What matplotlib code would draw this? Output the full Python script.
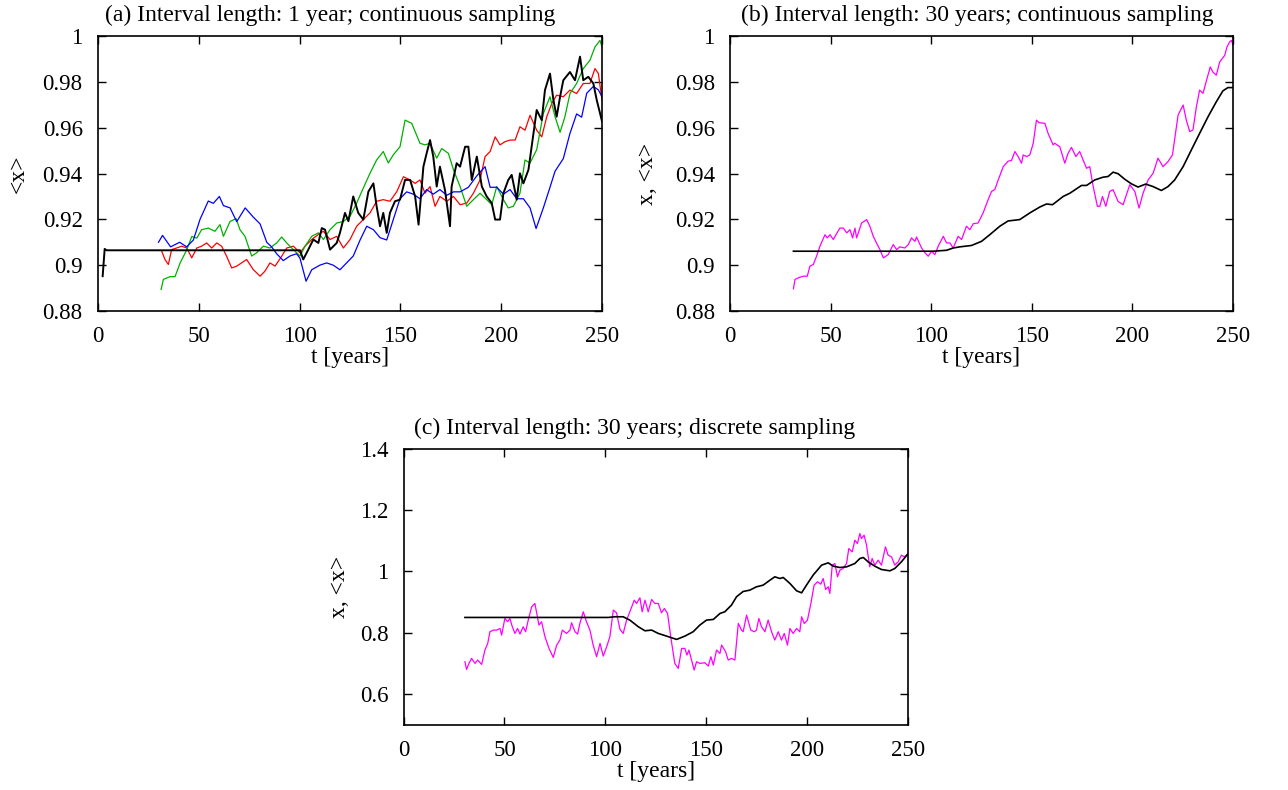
import matplotlib
matplotlib.use("Agg")
import matplotlib.pyplot as plt

plt.rcParams['font.family'] = ['Liberation Serif', 'DejaVu Serif']
plt.rcParams['font.size'] = 16.5

# ---------------- panel (a): interval length 1 year ----------------
a_blue_t = [30, 32, 36, 40.5, 44, 47.3, 50.6, 54.7, 57.2, 60.2, 62.2, 65.5, 68.8, 73, 77, 80.4, 83.7, 86.1,
            88.6, 91.9, 95.2, 98.5, 100.2, 103.2, 106, 110, 113.4, 116.7, 120, 123.3, 126.6, 130, 133.3,
            136.6, 139.9, 143.2, 146.5, 149.8, 153.1, 156.4, 159.7, 163, 166.3, 169.6, 173, 176.3, 179.6,
            183.7, 187.9, 192, 194.5, 197.8, 201.1, 204.4, 207.7, 211, 214.3, 217.3, 220.9, 224.2, 226.7,
            230.8, 234.1, 237.4, 239.9, 242.4, 245.7, 248.2, 250]
a_blue_v = [0.910, 0.913, 0.908, 0.910, 0.908, 0.911, 0.920, 0.928, 0.927, 0.930, 0.926, 0.925, 0.919, 0.925,
            0.921, 0.918, 0.910, 0.908, 0.905, 0.902, 0.904, 0.905, 0.903, 0.893, 0.898, 0.900, 0.901, 0.900,
            0.898, 0.901, 0.904, 0.911, 0.917, 0.9155, 0.912, 0.911, 0.920, 0.929, 0.932, 0.931, 0.929, 0.933,
            0.931, 0.933, 0.9305, 0.932, 0.932, 0.934, 0.939, 0.943, 0.934, 0.934, 0.931, 0.933, 0.929, 0.929,
            0.925, 0.916, 0.925, 0.934, 0.941, 0.9465, 0.9575, 0.966, 0.9646, 0.975, 0.978, 0.9765, 0.9735]

a_green_t = [31.3, 32.4, 35.7, 38.2, 40.7, 44, 46.5, 49, 51.4, 54.7, 58, 60.5, 62.2, 65.5, 68.5, 70.4, 72.9,
             76.2, 78.7, 82, 85.3, 88.6, 91.1, 93.6, 96.9, 100.2, 102.7, 106, 109.3, 111.8, 115.1, 118.4,
             121.7, 125, 128.3, 130.8, 134.9, 138.2, 141.5, 144, 146.5, 149.8, 152.3, 155.6, 157.3, 159.7,
             162.2, 164.7, 168, 170.5, 173.8, 176.3, 179.6, 182.9, 186.2, 189.5, 192.8, 195.3, 197.8, 201.1,
             203.5, 206, 209.3, 211.8, 214.3, 217.6, 220.9, 224.2, 226.7, 229.2, 231.6, 234.1, 237.4, 240.7,
             244, 246.5, 249, 250]
a_green_v = [0.8894, 0.8938, 0.895, 0.895, 0.9009, 0.9067, 0.9125, 0.9118, 0.9155, 0.9162, 0.9148, 0.9177,
             0.9126, 0.9191, 0.9203, 0.9155, 0.9126, 0.904, 0.9054, 0.9083, 0.9075, 0.9097, 0.9123, 0.9097,
             0.9068, 0.904, 0.9083, 0.9126, 0.9141, 0.9112, 0.9155, 0.9184, 0.9191, 0.9213, 0.9271, 0.9321,
             0.9401, 0.9459, 0.9496, 0.9446, 0.9482, 0.9517, 0.9633, 0.9619, 0.9583, 0.9532, 0.9525, 0.9532,
             0.9467, 0.9509, 0.9488, 0.9417, 0.9343, 0.9257, 0.9286, 0.9314, 0.9286, 0.9264, 0.9343, 0.9286,
             0.925, 0.9257, 0.9314, 0.9459, 0.9446, 0.9504, 0.9662, 0.9735, 0.9648, 0.958, 0.9648, 0.9749,
             0.9793, 0.9858, 0.9894, 0.9952, 0.9981, 0.9952]

a_red_t = [31.6, 33.2, 34.9, 36.5, 39, 41.5, 44, 46.5, 49, 51.4, 53.9, 56.4, 58.9, 61.3, 63.8, 66.3, 68.8,
           71.2, 73.7, 77, 80.4, 82.8, 85.3, 87.8, 91.1, 93.6, 96.9, 100.2, 102.7, 106, 109.3, 111.8, 115.1,
           118.4, 121.7, 125, 128.3, 131.6, 134.9, 138.2, 141.5, 144.8, 148.2, 151.5, 154.8, 157.3, 159.7,
           162.2, 164.7, 167.2, 169.6, 173, 176.3, 179.6, 182.9, 186.2, 189.5, 192, 194.5, 197, 199.4, 201.9,
           204.4, 206.9, 209.3, 211.8, 214.3, 217.6, 220.1, 222.6, 225.1, 227.5, 230.8, 234.1, 237.4, 240.7,
           244, 246.5, 248.2, 250]
a_red_v = [0.9061, 0.9025, 0.9003, 0.9068, 0.9075, 0.9083, 0.9075, 0.9032, 0.9075, 0.9083, 0.9097, 0.9075,
           0.9097, 0.9083, 0.9039, 0.8988, 0.8996, 0.901, 0.9025, 0.8981, 0.8952, 0.8974, 0.901, 0.8996,
           0.9039, 0.9075, 0.9083, 0.9054, 0.9083, 0.9112, 0.9134, 0.9148, 0.9112, 0.9126, 0.9075, 0.9112,
           0.917, 0.9199, 0.9228, 0.9279, 0.9286, 0.9279, 0.9321, 0.9386, 0.9372, 0.9357, 0.9372, 0.9314,
           0.9343, 0.9257, 0.93, 0.9279, 0.93, 0.9264, 0.9271, 0.9314, 0.9372, 0.9474, 0.9496, 0.956, 0.9525,
           0.9539, 0.9546, 0.9546, 0.9604, 0.9589, 0.9654, 0.9589, 0.956, 0.9648, 0.9706, 0.9742, 0.9735,
           0.9764, 0.9749, 0.9793, 0.9793, 0.9858, 0.9836, 0.972]

a_black_t = [2.3, 3.3, 4.3, 100.2, 101.8, 104.3, 106.8, 109.3, 111, 112.6, 115.1, 118.4, 120, 122.5, 124.2,
             126.6, 129.1, 131.6, 134.1, 136.6, 138.2, 139.9, 141.5, 143.2, 144.8, 147.3, 149.8, 152.3, 154.8,
             157.3, 159, 161.4, 163, 164.7, 166.3, 168, 169.6, 172.1, 174.6, 175.4, 177.9, 179.6, 182.1,
             183.7, 185.4, 187.9, 190.4, 192.8, 195.3, 197, 199.4, 201.1, 203.5, 205.2, 207.7, 209.3, 211,
             213.5, 216, 217.6, 220.1, 221.7, 224.2, 225.9, 227.5, 229.2, 230.8, 234.1, 236.6, 239.1, 240.7,
             243.2, 245.7, 247.4, 250]
a_black_v = [0.8952, 0.9071, 0.9065, 0.9065, 0.9025, 0.9068, 0.9112, 0.9097, 0.9162, 0.9155, 0.9068, 0.9097,
             0.9141, 0.9228, 0.9192, 0.93, 0.9228, 0.9199, 0.9321, 0.9357, 0.9257, 0.917, 0.9228, 0.9141,
             0.9228, 0.9279, 0.9286, 0.9372, 0.9372, 0.93, 0.9177, 0.943, 0.9488, 0.9546, 0.9474, 0.9343,
             0.943, 0.9328, 0.917, 0.9343, 0.9445, 0.943, 0.9517, 0.9517, 0.9372, 0.9474, 0.9343, 0.93,
             0.9271, 0.9199, 0.9199, 0.9314, 0.9372, 0.9394, 0.9286, 0.9401, 0.9357, 0.9416, 0.9575, 0.9677,
             0.9633, 0.9764, 0.9836, 0.972, 0.9648, 0.9735, 0.9807, 0.9843, 0.9807, 0.991, 0.9807, 0.9822,
             0.9793, 0.972, 0.9628]

# ---------------- panel (b): interval length 30 years, continuous ----------------
b_mag_t = [31.5, 32.3, 34, 36.4, 38.4, 39.7, 41.4, 43, 44.7, 47.2, 48.3, 49.7, 51.3, 54.6, 56.3, 58, 59.6,
           60.9, 62.1, 62.9, 65.4, 67.9, 69.5, 71.2, 72.8, 74.5, 76.2, 78.6, 81.1, 82.8, 84.4, 86.9, 88.6,
           90.2, 91.9, 92.7, 95.2, 96.9, 98.5, 100.2, 101.8, 103.5, 106, 107.6, 109.3, 110.9, 113.4, 115.1,
           117.5, 119.2, 120.9, 123.3, 125.8, 128.3, 130, 131.6, 133.3, 135.8, 138.2, 139.9, 141.6, 143.2,
           144.9, 145.7, 147.4, 149, 150.7, 152.3, 153.6, 156.5, 158.1, 160.6, 161.4, 163.9, 166.4, 168,
           169.7, 171.9, 173.8, 175.5, 177.2, 178.8, 180.5, 182.6, 183.8, 185.1, 186.8, 188.7, 190.4, 192.9,
           195.4, 196.2, 198.7, 201.2, 203.3, 205.3, 207.8, 210.3, 212.7, 215.2, 217.7, 219.9, 222.7, 225.2,
           226.8, 228.5, 230.1, 231.8, 233.4, 235.1, 237.1, 238.7, 240, 241.7, 243.4, 245.9, 247, 248.3,
           249.2, 250]
b_mag_v = [0.8897, 0.8938, 0.8945, 0.8952, 0.8952, 0.8996, 0.9003, 0.9039, 0.9083, 0.9133, 0.9119, 0.9133,
           0.9112, 0.9162, 0.9162, 0.9141, 0.9155, 0.9119, 0.9162, 0.9119, 0.9184, 0.9199, 0.917, 0.9126,
           0.9097, 0.9068, 0.9032, 0.9046, 0.909, 0.9068, 0.908, 0.9075, 0.909, 0.9119, 0.9104, 0.9123,
           0.9075, 0.9054, 0.9039, 0.9061, 0.9046, 0.9083, 0.9126, 0.9097, 0.9097, 0.9075, 0.9126, 0.9112,
           0.917, 0.9155, 0.9181, 0.9184, 0.9228, 0.9286, 0.9322, 0.933, 0.9372, 0.943, 0.9454, 0.9457,
           0.9496, 0.9474, 0.9445, 0.9481, 0.9474, 0.9481, 0.9532, 0.9633, 0.9622, 0.9619, 0.9575, 0.9525,
           0.9532, 0.9517, 0.9445, 0.9488, 0.9514, 0.9474, 0.9496, 0.9459, 0.9423, 0.943, 0.9343, 0.9257,
           0.9257, 0.93, 0.9257, 0.9322, 0.9329, 0.9278, 0.9264, 0.9286, 0.9351, 0.9322, 0.9249, 0.9314,
           0.9372, 0.9401, 0.9467, 0.943, 0.9452, 0.9481, 0.9655, 0.9699, 0.9633, 0.9583, 0.959, 0.9691,
           0.9764, 0.975, 0.9815, 0.9865, 0.9843, 0.9829, 0.9887, 0.9916, 0.9952, 0.9974, 0.9981, 0.996]

b_black_t = [31.5, 101, 107.6, 110.9, 114.2, 120, 125, 129.1, 134.1, 138.2, 144, 149, 154, 157.3, 160.3,
             165.6, 168.9, 174.7, 177.2, 181.3, 185.4, 187.9, 190.4, 192.9, 196.2, 199.5, 202.8, 206.6,
             210.3, 214.4, 217.7, 221, 225.2, 229.3, 233.4, 237.6, 241.7, 245, 247.5, 250]
b_black_v = [0.9061, 0.9061, 0.9065, 0.9075, 0.908, 0.9086, 0.9104, 0.9133, 0.917, 0.9193, 0.9199, 0.9228,
             0.9254, 0.9267, 0.9264, 0.93, 0.9314, 0.9348, 0.9348, 0.9372, 0.9384, 0.9387, 0.9406, 0.9399,
             0.9375, 0.9355, 0.9341, 0.9354, 0.9343, 0.9326, 0.9343, 0.9372, 0.943, 0.9503, 0.9575, 0.9648,
             0.9713, 0.9761, 0.9775, 0.9775]

# ---------------- panel (c): interval length 30 years, discrete ----------------
c_mag_t = [30.4, 31.2, 32.4, 33.7, 35.4, 36.7, 38.7, 40.3, 41.7, 42.8, 44.5, 46.1, 47.8, 48.6, 50.2, 51.6,
           52.7, 53.9, 55.2, 56.5, 57.7, 59.3, 60.5, 61.8, 63.5, 65.1, 67.1, 68.4, 70.1, 72.1, 74.2, 75.9,
           77.5, 78.7, 80.8, 82.5, 83.3, 85, 86.3, 87.4, 89.1, 90.7, 92.4, 94, 95.7, 97.4, 99, 100.7, 102.3,
           104, 105.6, 107.3, 108.9, 110.6, 113.1, 114.4, 115.5, 117.2, 118.3, 119.7, 121.3, 123, 124.6,
           126.3, 127.9, 129.3, 130.9, 132.6, 134.5, 136.2, 137.9, 139.5, 140.5, 141.5, 142.8, 144.1, 145.3,
           146.9, 149.4, 151.1, 152.4, 153.6, 155.2, 156.9, 157.7, 159.7, 161, 162.6, 164.3, 166, 167.6,
           168.4, 170.1, 172.2, 173.9, 175, 176.2, 177.5, 179.2, 180.8, 182.5, 184.1, 185.8, 187.4, 188.8,
           190.4, 191.6, 193.2, 194.9, 196.5, 197.4, 198.7, 200.3, 202, 203.6, 205.3, 206.9, 208.1, 209.3,
           210.6, 211.4, 212.6, 213.9, 215.2, 216.4, 218, 219.7, 220.8, 222.5, 223.8, 225.1, 226.3, 227.1,
           228.4, 229.6, 231.2, 232.4, 233.7, 235.4, 237, 239, 240.3, 242, 243.6, 245.3, 246.9, 248.3, 250]
c_mag_v = [0.7054, 0.6804, 0.7, 0.7163, 0.7, 0.7109, 0.6967, 0.7435, 0.7652, 0.8033, 0.8087, 0.8087, 0.8141,
           0.7924, 0.8467, 0.8359, 0.8467, 0.8196, 0.7978, 0.8141, 0.7957, 0.8196, 0.8033, 0.8413, 0.8848,
           0.8957, 0.825, 0.8359, 0.787, 0.7489, 0.7196, 0.7598, 0.7761, 0.8087, 0.7978, 0.8087, 0.8326,
           0.8033, 0.7957, 0.8304, 0.8685, 0.8359, 0.8087, 0.7598, 0.7217, 0.7652, 0.7239, 0.7543, 0.787,
           0.8739, 0.8652, 0.8109, 0.7978, 0.8413, 0.8848, 0.9065, 0.8957, 0.9141, 0.8685, 0.9065, 0.8685,
           0.9087, 0.8957, 0.8957, 0.8652, 0.8793, 0.863, 0.7815, 0.7, 0.6837, 0.7489, 0.7489, 0.7272,
           0.7435, 0.7109, 0.6783, 0.7054, 0.7, 0.7022, 0.6913, 0.7217, 0.6946, 0.7435, 0.7326, 0.7598,
           0.738, 0.7109, 0.7163, 0.7109, 0.8304, 0.8087, 0.8033, 0.8576, 0.8087, 0.8033, 0.8087, 0.8467,
           0.8196, 0.8033, 0.8413, 0.8033, 0.7761, 0.8033, 0.7761, 0.7978, 0.7598, 0.8141, 0.7978, 0.8141,
           0.8033, 0.8522, 0.8304, 0.8413, 0.8957, 0.9554, 0.9663, 0.9587, 0.9772, 0.9413, 0.95, 0.9283,
           1.0207, 1.0261, 0.9826, 1.0043, 1.0098, 1.0261, 1.075, 1.0641, 1.1022, 1.0913, 1.1239, 1.1076,
           1.1185, 1.0859, 1.0152, 1.0424, 1.0207, 1.037, 1.0207, 1.0804, 1.0533, 1.0478, 1.0207, 1.0315,
           1.0533, 1.0478, 1.0565]

c_black_t = [30.4, 101.5, 104.8, 108.9, 112.2, 116.4, 119.7, 123, 126.3, 130.4, 135.4, 139.5, 143.6, 146.9,
             150.2, 153.6, 156.9, 159.3, 162.6, 165.1, 168.4, 171.7, 175, 178.3, 181.7, 184.1, 186.6, 188.3,
             191.6, 194.9, 197.4, 199.8, 203.1, 207.3, 210.6, 213.1, 216.4, 219.7, 223.8, 226.3, 228,
             230.4, 233.7, 237, 241.2, 243.6, 246.9, 250]
c_black_v = [0.85, 0.85, 0.8522, 0.8522, 0.8413, 0.8196, 0.8065, 0.8087, 0.7978, 0.7891, 0.7783, 0.7891,
             0.8033, 0.825, 0.8413, 0.8435, 0.863, 0.8685, 0.8902, 0.9174, 0.9348, 0.9391, 0.95, 0.9554,
             0.9717, 0.9826, 0.9772, 0.9804, 0.9609, 0.937, 0.9304, 0.9554, 0.988, 1.0207, 1.0283, 1.0174,
             1.013, 1.0152, 1.0261, 1.0424, 1.0457, 1.0315, 1.0174, 1.0065, 1.0022, 1.0098, 1.0315, 1.0565]

titles = ["(a) Interval length: 1 year; continuous sampling",
          "(b) Interval length: 30 years; continuous sampling",
          "(c) Interval length: 30 years; discrete sampling"]
x_ticks = [0, 50, 100, 150, 200, 250]
y_ticks_ab = [0.88, 0.9, 0.92, 0.94, 0.96, 0.98, 1.0]
y_labels_ab = ["0.88", "0.9", "0.92", "0.94", "0.96", "0.98", "1"]
y_ticks_c = [0.6, 0.8, 1.0, 1.2, 1.4]
y_labels_c = ["0.6", "0.8", "1", "1.2", "1.4"]

fig = plt.figure(figsize=(12.88, 7.90), dpi=100)
ax_a = fig.add_axes([0.0761, 0.6063, 0.3913, 0.3481])
ax_b = fig.add_axes([0.5668, 0.6063, 0.3905, 0.3481])
ax_c = fig.add_axes([0.3134, 0.0827, 0.3913, 0.3490])


def style(ax, title, title_x, ylabel, ylabelpad, yticks, ylabels, ylim):
    ax.set_xlim(0, 250)
    ax.set_ylim(*ylim)
    ax.set_xticks(x_ticks)
    ax.set_yticks(yticks)
    ax.set_yticklabels(ylabels)
    ax.tick_params(direction="in", top=True, right=True, length=6, width=1, labelsize=16.5)
    ax.tick_params(axis="x", pad=11)
    ax.tick_params(axis="y", pad=11)
    ax.set_title(title, fontsize=17, pad=11, x=title_x)
    ax.set_xlabel("t [years]", fontsize=17, labelpad=0)
    ax.set_ylabel(ylabel, fontsize=17, labelpad=ylabelpad)
    for s in ax.spines.values():
        s.set_linewidth(1.2)


ax_a.plot(a_red_t, a_red_v, color="#ff0000", lw=0.9)
ax_a.plot(a_green_t, a_green_v, color="#00b000", lw=0.9)
ax_a.plot(a_blue_t, a_blue_v, color="#0000ff", lw=0.9)
ax_a.plot(a_black_t, a_black_v, color="black", lw=1.4)
style(ax_a, titles[0], 0.46, "<x>", 10, y_ticks_ab, y_labels_ab, (0.88, 1.0))

ax_b.plot(b_mag_t, b_mag_v, color="#ff00ff", lw=0.9)
ax_b.plot(b_black_t, b_black_v, color="black", lw=1.2)
style(ax_b, titles[1], 0.491, "x, <x>", 12, y_ticks_ab, y_labels_ab, (0.88, 1.0))

ax_c.plot(c_mag_t, c_mag_v, color="#ff00ff", lw=0.9)
ax_c.plot(c_black_t, c_black_v, color="black", lw=1.2)
style(ax_c, titles[2], 0.458, "x, <x>", 7, y_ticks_c, y_labels_c, (0.5, 1.4))

fig.savefig("out.png", dpi=100)
